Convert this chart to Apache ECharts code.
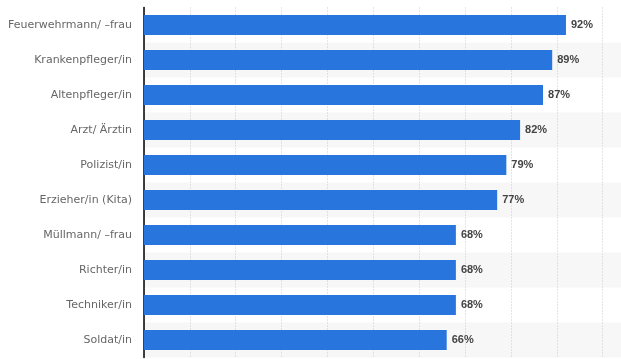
<!DOCTYPE html>
<html>
<head>
<meta charset="utf-8">
<script src="https://cdn.jsdelivr.net/npm/echarts@6/dist/echarts.min.js"></script>
<style>html,body{margin:0;padding:0;background:#fff}#c{width:621px;height:359px}</style>
</head>
<body>
<div id="c"></div>
<script>
var categories = ["Feuerwehrmann/ \u2013frau", "Krankenpfleger/in", "Altenpfleger/in", "Arzt/ \u00c4rztin", "Polizist/in", "Erzieher/in (Kita)", "M\u00fcllmann/ \u2013frau", "Richter/in", "Techniker/in", "Soldat/in"];
var values = [92, 89, 87, 82, 79, 77, 68, 68, 68, 66];

var chart = echarts.init(document.getElementById('c'), null, {renderer: 'canvas'});
chart.setOption({
  animation: false,
  grid: {left: 144, right: 0, top: 7.5, bottom: 1.5, containLabel: false},
  xAxis: {
    type: 'value', min: 0, max: 104, interval: 10,
    axisLabel: {show: false}, axisTick: {show: false}, axisLine: {show: false},
    splitLine: {show: true, lineStyle: {color: '#c8c8c8', type: [1, 2], width: 1}}
  },
  yAxis: {
    type: 'category', data: categories, inverse: true,
    axisLine: {show: true, lineStyle: {color: '#000', width: 1.5}},
    axisTick: {show: false},
    axisLabel: {color: '#666', fontFamily: 'DejaVu Sans', fontSize: 11, margin: 12},
    splitArea: {show: true, areaStyle: {color: ['rgba(255,255,255,0)', '#f7f7f7']}}
  },
  series: [{
    type: 'bar', data: values, barWidth: 20,
    itemStyle: {color: '#2876dd'},
    label: {show: true, position: 'right', distance: 5, formatter: '{c}%', color: '#444', fontWeight: 'bold', fontFamily: 'Liberation Sans', fontSize: 11}
  }]
});
</script>
</body>
</html>
